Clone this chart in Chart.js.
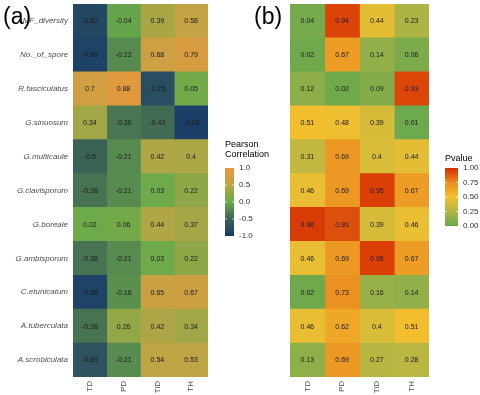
<!DOCTYPE html>
<html>
<head>
<meta charset="utf-8">
<script src="https://cdn.jsdelivr.net/npm/chart.js@4.4.1/dist/chart.umd.min.js"></script>
<style>
  html, body { margin: 0; padding: 0; background: #fff; }
  #wrap { position: relative; width: 480px; height: 395px; overflow: hidden; }
  canvas { position: absolute; top: 0; }
  #chartA { left: 0; }
  #chartB { left: 240px; }
</style>
</head>
<body>
<div id="wrap">
  <canvas id="chartB" width="240" height="395"></canvas>
  <canvas id="chartA" width="280" height="395"></canvas>
</div>
<script>
// rows top to bottom
const rowLabels = [
  "AMF_diversity", "No._of_spore", "R.fasciculatus", "G.sinuosum",
  "G.multicaule", "G.clavisporum", "G.boreale", "G.ambisporum",
  "C.etunicatum", "A.tuberculata", "A.scrobiculata",
];
const colLabels = ["TD", "PD", "TiD", "TH"];

// (a) Pearson correlation, one array per column
const corrTD = [-0.82, -0.89, 0.7, 0.34, -0.5, -0.38, 0.02, -0.38, -0.88, -0.38, -0.69];
const corrPD = [-0.04, -0.22, 0.88, -0.36, -0.21, -0.21, 0.06, -0.21, -0.18, 0.26, -0.21];
const corrTiD = [0.39, 0.68, -0.75, -0.43, 0.42, 0.03, 0.44, 0.03, 0.65, 0.42, 0.54];
const corrTH = [0.58, 0.79, 0.05, -0.93, 0.4, 0.22, 0.37, 0.22, 0.67, 0.34, 0.53];

// (b) p values
const pTD = [0.04, 0.02, 0.12, 0.51, 0.31, 0.46, 0.96, 0.46, 0.02, 0.46, 0.13];
const pPD = [0.94, 0.67, 0.02, 0.48, 0.69, 0.69, 0.91, 0.69, 0.73, 0.62, 0.69];
const pTiD = [0.44, 0.14, 0.09, 0.39, 0.4, 0.95, 0.39, 0.95, 0.16, 0.4, 0.27];
const pTH = [0.23, 0.06, 0.93, 0.01, 0.44, 0.67, 0.46, 0.67, 0.14, 0.51, 0.28];

const corrTicks = [1.0, 0.5, 0.0, -0.5, -1.0];
const pTicks = [1.0, 0.75, 0.5, 0.25, 0.0];

const corrStops = [
  [-1, "#163a6c"], [-0.5, "#3c6156"], [0, "#6aaa4a"], [0.5, "#bba545"], [1, "#ec963a"],
];
const pStops = [
  [0, "#6aa84d"], [0.25, "#b2b545"], [0.5, "#f3c02f"], [0.75, "#ea8c20"], [1, "#d62c00"],
];

const FONT = "'Liberation Sans', Arial, Helvetica, sans-serif";

function hexToRgb(hex) {
  const n = parseInt(hex.slice(1), 16);
  return [(n >> 16) & 255, (n >> 8) & 255, n & 255];
}

function colorFor(value, stops) {
  if (value <= stops[0][0]) return stops[0][1];
  for (let i = 1; i < stops.length; i++) {
    if (value <= stops[i][0]) {
      const t = (value - stops[i - 1][0]) / (stops[i][0] - stops[i - 1][0]);
      const a = hexToRgb(stops[i - 1][1]);
      const b = hexToRgb(stops[i][1]);
      const c = a.map((v, k) => Math.round(v + (b[k] - v) * t));
      return `rgb(${c[0]},${c[1]},${c[2]})`;
    }
  }
  return stops[stops.length - 1][1];
}

const cellLabels = {
  id: "cellLabels",
  afterDatasetsDraw(chart) {
    const ctx = chart.ctx;
    ctx.save();
    ctx.font = `7px ${FONT}`;
    ctx.fillStyle = "#1a1a1a";
    ctx.textAlign = "center";
    ctx.textBaseline = "middle";
    chart.data.datasets.forEach((ds, i) => {
      chart.getDatasetMeta(i).data.forEach((bar, j) => {
        const p = bar.getCenterPoint();
        ctx.fillText(String(ds.values[j]), p.x, p.y + 0.5);
      });
    });
    ctx.restore();
  },
};

const colorbar = {
  id: "colorbar",
  afterDraw(chart, args, opts) {
    const ctx = chart.ctx;
    ctx.save();
    // panel tag
    ctx.font = `23px ${FONT}`;
    ctx.fillStyle = "#000";
    ctx.textBaseline = "alphabetic";
    ctx.textAlign = "left";
    ctx.fillText(opts.tag, opts.tagX, 24);

    ctx.font = `9px ${FONT}`;
    opts.title.forEach((line, i) => {
      ctx.fillText(line, opts.x, opts.titleY + i * 10);
    });

    const min = opts.stops[0][0];
    const max = opts.stops[opts.stops.length - 1][0];
    const grad = ctx.createLinearGradient(0, opts.y + opts.h, 0, opts.y);
    opts.stops.forEach(([v, c]) => grad.addColorStop((v - min) / (max - min), c));
    ctx.fillStyle = grad;
    ctx.fillRect(opts.x, opts.y, opts.w, opts.h);

    ctx.font = `8px ${FONT}`;
    ctx.textBaseline = "middle";
    ctx.strokeStyle = "rgba(255,255,255,0.8)";
    ctx.lineWidth = 0.8;
    opts.ticks.forEach((v) => {
      const y = opts.y + opts.h - ((v - min) / (max - min)) * opts.h;
      ctx.fillStyle = "#333";
      ctx.fillText(v.toFixed(opts.digits), opts.x + opts.w + 5, y);
      if (v !== min && v !== max) {
        ctx.beginPath();
        ctx.moveTo(opts.x, y);
        ctx.lineTo(opts.x + 2, y);
        ctx.moveTo(opts.x + opts.w - 2, y);
        ctx.lineTo(opts.x + opts.w, y);
        ctx.stroke();
      }
    });
    ctx.restore();
  },
};

function buildDatasets(columns, stops) {
  return columns.map((vals, c) => ({
    label: colLabels[c],
    data: vals.map(() => [c, c + 1]),
    values: vals,
    backgroundColor: vals.map((v) => colorFor(v, stops)),
    borderWidth: 0,
    barPercentage: 1,
    categoryPercentage: 1,
    grouped: false,
  }));
}

function heatmap(canvasId, columns, stops, showRows, padding, legend) {
  return new Chart(document.getElementById(canvasId), {
    type: "bar",
    data: {
      labels: rowLabels,
      datasets: buildDatasets(columns, stops),
    },
    options: {
      indexAxis: "y",
      responsive: false,
      animation: false,
      layout: { padding: padding },
      plugins: {
        legend: { display: false },
        tooltip: { enabled: false },
        colorbar: legend,
      },
      scales: {
        x: {
          type: "linear",
          min: 0,
          max: 4,
          grid: { display: false, drawTicks: false },
          border: { display: false },
          afterBuildTicks: (scale) => {
            scale.ticks = [0.5, 1.5, 2.5, 3.5].map((v) => ({ value: v }));
          },
          afterFit: (scale) => {
            scale.height = 18;
          },
          ticks: {
            minRotation: 90,
            maxRotation: 90,
            padding: 4,
            color: "#4d4d4d",
            font: { family: FONT, size: 8 },
            callback: (v) => colLabels[Math.floor(v)],
          },
        },
        y: {
          display: showRows,
          grid: { display: false, drawTicks: false },
          border: { display: false },
          afterFit: (scale) => {
            scale.width = padding.axis;
            scale.paddingTop = 0;
            scale.paddingBottom = 0;
          },
          ticks: {
            padding: 5,
            color: "#4d4d4d",
            font: { family: FONT, size: 8, style: "italic" },
          },
        },
      },
    },
    plugins: [cellLabels, colorbar],
  });
}

heatmap(
  "chartA",
  [corrTD, corrPD, corrTiD, corrTH],
  corrStops,
  true,
  { top: 4, left: 0, right: 72, bottom: 0, axis: 73 },
  {
    tag: "(a)", tagX: 3,
    title: ["Pearson", "Correlation"], titleY: 147,
    x: 225, y: 168, w: 9, h: 68,
    stops: corrStops, ticks: corrTicks, digits: 1,
  }
);

heatmap(
  "chartB",
  [pTD, pPD, pTiD, pTH],
  pStops,
  false,
  { top: 4, left: 50, right: 51, bottom: 0, axis: 0 },
  {
    tag: "(b)", tagX: 14,
    title: ["Pvalue"], titleY: 161,
    x: 205, y: 168, w: 13, h: 58,
    stops: pStops, ticks: pTicks, digits: 2,
  }
);
</script>
</body>
</html>
